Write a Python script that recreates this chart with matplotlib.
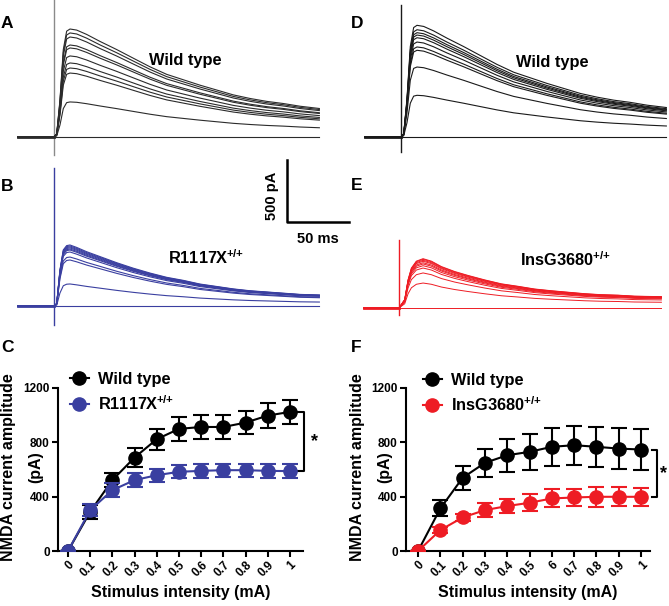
import numpy as np
import matplotlib.pyplot as plt
from matplotlib.lines import Line2D

plt.rcParams['font.family'] = 'Liberation Sans'
plt.rcParams['font.weight'] = 'bold'
plt.rcParams['axes.labelweight'] = 'bold'
plt.rcParams['mathtext.fontset'] = 'custom'
plt.rcParams['mathtext.rm'] = 'Liberation Sans:bold'
plt.rcParams['mathtext.bf'] = 'Liberation Sans:bold'

# ---- current traces: normalised waveform ----
wt_t = [-29, -1, 0, 2.2, 4.8, 7.5, 10.2, 12.9, 18.3, 26.3, 37.1, 50.5, 63.9, 77.4,
        90.9, 104.3, 117.7, 131.2, 144.6, 158, 171.5, 185, 198.4, 214]
wt_shape = [0, 0, 0, 0.03, 0.34, 0.81, 0.98, 1.0, 0.99, 0.95, 0.885, 0.81, 0.73, 0.65,
            0.58, 0.53, 0.48, 0.435, 0.39, 0.357, 0.33, 0.31, 0.285, 0.264]
r1117x_shape = [0, 0, 0, 0.04, 0.59, 0.92, 0.99, 1.0, 0.96, 0.89, 0.81, 0.71, 0.62, 0.54,
                0.47, 0.42, 0.36, 0.32, 0.28, 0.25, 0.23, 0.21, 0.19, 0.18]
insg_t = [-28.5, -1, 0, 4.6, 7.3, 10, 14, 19.4, 26.1, 34.2, 44.9, 55.7, 69.1, 82.6,
          96, 109.4, 122.9, 136.3, 149.8, 163.2, 176.6, 190, 211.6]
insg_shape = [0, 0, 0, 0.17, 0.57, 0.81, 0.95, 1.0, 0.95, 0.84, 0.74, 0.66, 0.57, 0.49,
              0.44, 0.385, 0.35, 0.32, 0.29, 0.27, 0.26, 0.24, 0.23]

# peak amplitude (pA) of each trace, 0 -> 1 mA stimulus
amp_A = [878, 846, 813, 748, 724, 659, 602, 561, 520, 285, 0]
amp_B = [496, 488, 480, 472, 463, 455, 439, 398, 374, 179, 0]
amp_D = [908, 872, 848, 829, 807, 772, 732, 705, 569, 339, 0]
amp_E = [401, 396, 388, 380, 368, 358, 344, 325, 285, 203, 0]

# ---- input/output curves ----
intensity = ['0', '0.1', '0.2', '0.3', '0.4', '0.5', '0.6', '0.7', '0.8', '0.9', '1']
intensity_F = ['0', '0.1', '0.2', '0.3', '0.4', '0.5', '6', '0.7', '0.8', '0.9', '1']

wt_C = [0, 289, 522, 688, 823, 899, 913, 913, 945, 997, 1024]
wt_C_err = [0, 50, 54, 67, 77, 88, 86, 86, 86, 90, 88]
r1117x_C = [0, 301, 448, 522, 558, 583, 590, 595, 595, 590, 588]
r1117x_C_err = [0, 45, 54, 49, 49, 49, 49, 49, 49, 49, 49]

wt_F = [0, 313, 539, 649, 705, 730, 767, 779, 767, 754, 747]
wt_F_err = [0, 59, 90, 104, 122, 135, 140, 143, 147, 150, 150]
insg_F = [0, 154, 247, 301, 331, 355, 387, 394, 399, 399, 399]
insg_F_err = [0, 20, 25, 49, 54, 61, 66, 66, 73, 69, 66]

mut_B_label = r'R1117X$^{{+}/{+}}$'
mut_E_label = r'InsG3680$^{{+}/{+}}$'

W, H = 669, 606
fig = plt.figure(figsize=(W / 100, H / 100), dpi=100)

def px_axes(x0, y0, x1, y1):
    return fig.add_axes([x0 / W, 1 - y1 / H, (x1 - x0) / W, (y1 - y0) / H])

def px_text(x, y, s, **kw):
    fig.text(x / W, 1 - y / H, s, **kw)

px_ms = 1.24    # pixels per ms  (50 ms bar)
px_pA = 0.123   # pixels per pA  (500 pA bar)

def trace_panel(box, stim_x, base_y, t, shape, amps, color, art, lw=0.8, art_color=None):
    x0, y0, x1, y1 = box
    ax = px_axes(x0, y0, x1, y1)
    ax.set_xlim((x0 - stim_x) / px_ms, (x1 - stim_x) / px_ms)
    ax.set_ylim((base_y - y1) / px_pA, (base_y - y0) / px_pA)
    ax.axis('off')
    ax.plot([0, 0], art, color=art_color or color, lw=1.0)
    for a in amps:
        ax.plot(t, np.array(shape) * a, color=color, lw=lw)
    ax.plot([t[0], 0], [0, 0], color=color, lw=2.0)
    return ax

trace_panel((0, 0, 335, 160), 54, 137, wt_t, wt_shape, amp_A, '#2b2b2b', [-146, 1114], art_color='#8a8a8a')
axB = trace_panel((0, 160, 335, 330), 54, 306, wt_t, r1117x_shape, amp_B, '#3a3fa0', [-154, 1122])
trace_panel((335, 0, 669, 160), 401, 137, wt_t, wt_shape, amp_D, '#1a1a1a', [-122, 1073])
trace_panel((335, 160, 669, 330), 399, 308, insg_t, insg_shape, amp_E, '#ee1c24', [-57, 553], lw=0.7)

# scale bar (500 pA / 50 ms)
axB.plot([188, 188, 238], [1183, 683, 683], color='k', lw=1.8, clip_on=False)
px_text(272, 196, '500 pA', rotation=90, ha='center', va='center', fontsize=10.5)
px_text(318, 239, '50 ms', ha='center', va='center', fontsize=10.5)

px_text(185, 61, 'Wild type', ha='center', va='center', fontsize=11.8)
px_text(552, 62, 'Wild type', ha='center', va='center', fontsize=11.8)
px_text(168, 258, mut_B_label, ha='left', va='center', fontsize=11.8)
px_text(520, 260, mut_E_label, ha='left', va='center', fontsize=11.8)

for lab, x, y in [('A', 1, 23), ('B', 1, 186), ('C', 1, 348), ('D', 351, 23), ('E', 351, 185), ('F', 351, 348)]:
    px_text(x, y, lab, ha='left', va='center', fontsize=12.5)


def io_panel(box, xlim, wt, wt_err, mut, mut_err, mut_color, mut_label, ticklabels,
             br_x, cap_x, star_x, leg_xy, ylab_x):
    ax = px_axes(*box)
    x = np.arange(len(wt))
    ax.errorbar(x, wt, yerr=wt_err, fmt='-o', color='k', ms=9.5, lw=1.5,
                elinewidth=1.5, capsize=6, capthick=1.5, zorder=3)
    ax.errorbar(x, mut, yerr=mut_err, fmt='-o', color=mut_color, ms=9.5, lw=1.5,
                elinewidth=1.5, capsize=6, capthick=1.5, zorder=4)
    ax.set_xlim(*xlim)
    ax.set_ylim(0, 1200)
    ax.set_yticks([0, 400, 800, 1200])
    ax.set_xticks(x)
    ax.set_xticklabels(ticklabels, rotation=45, ha='right', rotation_mode='anchor')
    for s in ['top', 'right']:
        ax.spines[s].set_visible(False)
    for s in ['left', 'bottom']:
        ax.spines[s].set_linewidth(1.5)
    ax.tick_params(direction='out', length=4, width=1.5, labelsize=8.5, pad=2)
    ax.set_xlabel('Stimulus intensity (mA)', fontsize=11.5, labelpad=4)
    ax.plot([cap_x, br_x, br_x, cap_x], [wt[-1], wt[-1], mut[-1], mut[-1]],
            color='k', lw=1.5, clip_on=False)
    ax.text(star_x, (wt[-1] + mut[-1]) / 2, '*', ha='center', va='center', fontsize=13,
            clip_on=False)
    handles = [Line2D([], [], color='k', marker='o', ms=9.5, lw=1.5),
               Line2D([], [], color=mut_color, marker='o', ms=9.5, lw=1.5)]
    ax.legend(handles, ['Wild type', mut_label], loc='upper left',
              bbox_to_anchor=(leg_xy[0] / W, 1 - leg_xy[1] / H), bbox_transform=fig.transFigure,
              frameon=False, borderpad=0, borderaxespad=0, handlelength=1.15,
              handletextpad=0.55, labelspacing=0.45, prop=dict(weight='bold', size=11.8))
    px_text(ylab_x, 467, 'NMDA current amplitude', rotation=90, ha='center', va='center', fontsize=11.5)
    px_text(ylab_x + 27, 467, '(pA)', rotation=90, ha='center', va='center', fontsize=11.5)
    return ax

io_panel((58, 388, 303, 551), (-0.45, 10.59), wt_C, wt_C_err, r1117x_C, r1117x_C_err,
         '#3a3fa0', mut_B_label, intensity, 10.62, 10.36, 11.1, (70, 372), 9)
io_panel((406, 388, 650, 551), (-0.54, 10.4), wt_F, wt_F_err, insg_F, insg_F_err,
         '#ee1c24', mut_E_label, intensity_F, 10.72, 10.5, 11.0, (423, 373), 358)

fig.savefig('out.png', dpi=100)
